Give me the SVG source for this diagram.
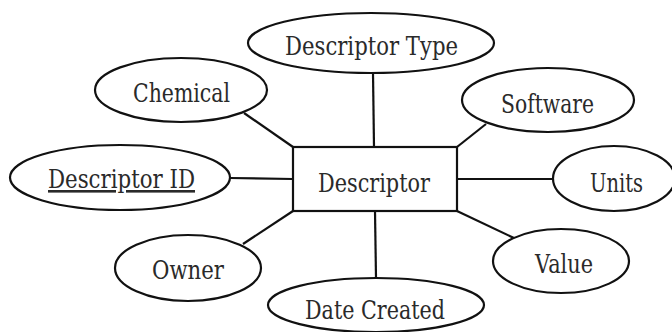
<svg xmlns="http://www.w3.org/2000/svg" width="672" height="332" viewBox="0 0 672 332">
<style>
.s{fill:#fff;stroke:#111;stroke-width:2.2}
.c line{stroke:#111;stroke-width:2.2}
text{font-family:"DejaVu Serif","Liberation Serif",serif;font-size:26px;fill:#2a2a2a;text-anchor:start}
</style>
<rect width="672" height="332" fill="#fff"/>
<g class="c" id="connectors">
<line x1="373" y1="73" x2="374" y2="147"/>
<line x1="244" y1="113" x2="293" y2="147"/>
<line x1="486" y1="124" x2="457" y2="147"/>
<line x1="230" y1="178" x2="293" y2="179"/>
<line x1="457" y1="179" x2="553" y2="179"/>
<line x1="293" y1="211" x2="243" y2="244"/>
<line x1="457" y1="211" x2="514" y2="238"/>
<line x1="375" y1="211" x2="376" y2="278"/>
</g>
<g id="descriptor"><rect class="s" x="293" y="147" width="164" height="64"/><text x="318" y="192" textLength="112" lengthAdjust="spacingAndGlyphs">Descriptor</text></g>
<g id="descriptor-type"><ellipse class="s" cx="371" cy="43" rx="123" ry="30"/><text x="285" y="55" textLength="173" lengthAdjust="spacingAndGlyphs">Descriptor Type</text></g>
<g id="chemical"><ellipse class="s" cx="181" cy="90" rx="86" ry="32"/><text x="133" y="102" textLength="97" lengthAdjust="spacingAndGlyphs">Chemical</text></g>
<g id="software"><ellipse class="s" cx="548" cy="100" rx="86" ry="32"/><text x="501" y="113" textLength="93" lengthAdjust="spacingAndGlyphs">Software</text></g>
<g id="descriptor-id"><ellipse class="s" cx="120" cy="177.5" rx="110" ry="32.5"/><text x="48" y="188" textLength="147" lengthAdjust="spacingAndGlyphs" text-decoration="underline">Descriptor ID</text></g>
<g id="units"><ellipse class="s" cx="614" cy="178.5" rx="61" ry="32.5"/><text x="590" y="192" textLength="53" lengthAdjust="spacingAndGlyphs">Units</text></g>
<g id="owner"><ellipse class="s" cx="188" cy="268" rx="73" ry="33"/><text x="152" y="279" textLength="72" lengthAdjust="spacingAndGlyphs">Owner</text></g>
<g id="value"><ellipse class="s" cx="561" cy="261" rx="68" ry="32"/><text x="535" y="273" textLength="58" lengthAdjust="spacingAndGlyphs">Value</text></g>
<g id="date-created"><ellipse class="s" cx="376" cy="305" rx="108" ry="27"/><text x="305" y="319" textLength="140" lengthAdjust="spacingAndGlyphs">Date Created</text></g>
</svg>
